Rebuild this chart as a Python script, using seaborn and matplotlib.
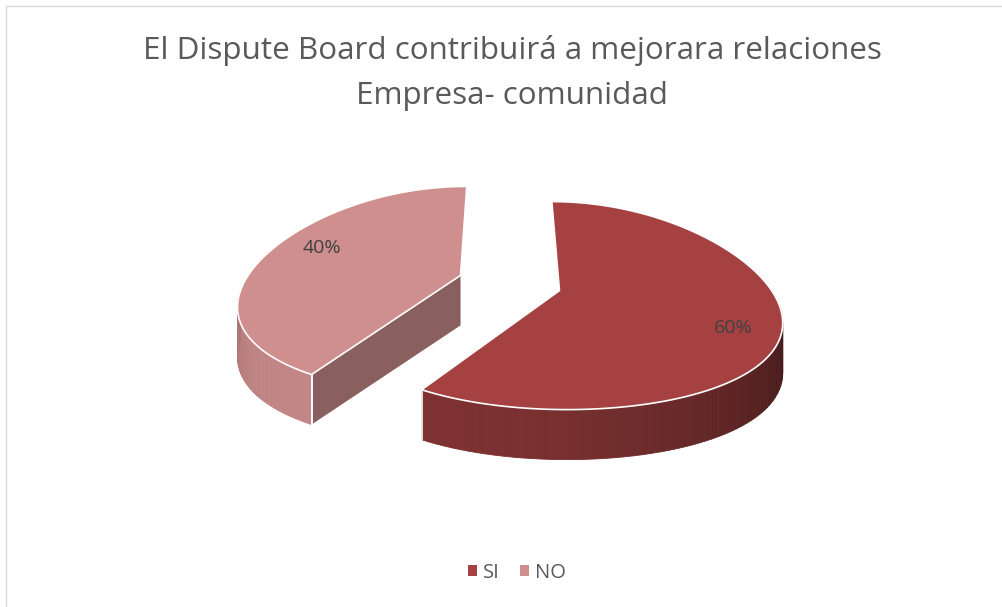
import numpy as np
import matplotlib
matplotlib.use("Agg")
import matplotlib.pyplot as plt
import seaborn as sns
from matplotlib.patches import Polygon, Rectangle, Patch
from matplotlib.colors import to_rgb

# data
labels = ["SI", "NO"]
values = [60, 40]
top_colors = ["#a54141", "#d08f8f"]
title = "El Dispute Board contribuirá a mejorara relaciones\nEmpresa- comunidad"

# side shading per slice: factor = k0 + k1 * cos(angle - light)
shade_k0 = [0.52, 0.66]
shade_k1 = [0.24, 0.28]
LIGHT = 215

# pseudo 3d geometry (pixel space)
CX, CY = 510, 298
RX, RY = 220, 104
DEPTH = 50
LIFT = 15
EXPLODE = 52
PERSP = 0.14      # front of the disc drawn wider than the back
XC = 505          # horizontal vanishing centre
label_angle = [105, 303]
label_frac = [0.82, 0.75]

sns.set_theme(style="white")
plt.rcParams["font.family"] = ["Open Sans", "DejaVu Sans"]

fig = plt.figure(figsize=(10.03, 6.07), dpi=100)
ax = fig.add_axes([0, 0, 1, 1])
ax.set_xlim(0, 1003)
ax.set_ylim(607, 0)
ax.axis("off")


def arc(cx, cy, a0, a1, n=80, dy=0):
    t = np.radians(np.linspace(a0, a1, n))
    x = cx + RX * np.sin(t)
    x = XC + (x - XC) * (1 - PERSP * np.cos(t))
    return np.column_stack([x, cy - RY * np.cos(t) + dy])


def shade(color, i, ang):
    f = shade_k0[i] + shade_k1[i] * np.cos(np.radians(ang - LIGHT))
    return tuple(np.clip(np.array(to_rgb(color)) * f, 0, 1))


total = sum(values)
starts = np.cumsum([0] + values[:-1]) / total * 360
ends = np.cumsum(values) / total * 360

slices = []
for i in range(len(values)):
    a0, a1 = starts[i], ends[i]
    mid = np.radians((a0 + a1) / 2)
    cx = CX + EXPLODE * np.sin(mid)
    cy = CY - EXPLODE * RY / RX * np.cos(mid)
    slices.append((i, a0, a1, cx, cy))

# back slice first (the one whose centre sits higher)
for i, a0, a1, cx, cy in sorted(slices, key=lambda s: s[4]):
    col = top_colors[i]
    vx, vy = cx, cy - LIFT

    # radial faces that face the viewer
    for ang, nrm in [(a0, a0 - 90), (a1, a1 + 90)]:
        if -np.cos(np.radians(nrm)) > 0.1:
            ex, ey = arc(cx, cy, ang, ang, n=1)[0]
            face = [(vx, vy), (ex, ey), (ex, ey + DEPTH), (vx, vy + DEPTH)]
            ax.add_patch(Polygon(face, closed=True, facecolor=shade(col, i, nrm),
                                 edgecolor="none", zorder=2))
            ax.plot([ex, ex], [ey, ey + DEPTH], color="white", lw=1.2, zorder=3)

    # outer wall, visible on the front half
    s0, s1 = max(a0, 90), min(a1, 270)
    if s1 > s0:
        edges = np.linspace(s0, s1, 60)
        for e0, e1 in zip(edges[:-1], edges[1:]):
            up = arc(cx, cy, e0, e1, n=4)
            quad = np.vstack([up, up[::-1] + [0, DEPTH]])
            c = shade(col, i, (e0 + e1) / 2)
            ax.add_patch(Polygon(quad, closed=True, facecolor=c, edgecolor=c,
                                 lw=0.6, zorder=2))
        for ang in (s0, s1):
            if ang in (a0, a1):
                ex, ey = arc(cx, cy, ang, ang, n=1)[0]
                ax.plot([ex, ex], [ey, ey + DEPTH], color="white", lw=1.2, zorder=3)

    # top face
    top = np.vstack([[vx, vy], arc(cx, cy, a0, a1, n=200)])
    ax.add_patch(Polygon(top, closed=True, facecolor=col, edgecolor="white",
                         lw=1.2, joinstyle="round", zorder=4))

    # data label
    la = np.radians(label_angle[i])
    lx = cx + RX * label_frac[i] * np.sin(la)
    ly = cy - RY * label_frac[i] * np.cos(la)
    ax.text(lx, ly, f"{values[i] / total:.0%}", ha="center", va="center",
            fontsize=14, color="#404040", zorder=5)

# chart frame (only top and left edges fall inside the picture)
ax.add_patch(Rectangle((6.5, 5.5), 1010, 620, fill=False, edgecolor="#d9d9d9",
                       lw=1, zorder=1))

ax.text(512, 73, title, ha="center", va="center", fontsize=22.6, color="#595959",
        linespacing=1.62)

handles = [Patch(facecolor=c, edgecolor="none") for c in top_colors]
fig.legend(handles, labels, loc="center", bbox_to_anchor=(0.515, 1 - 573 / 607),
           ncol=2, frameon=False, fontsize=14.5, handlelength=0.45, handleheight=0.45,
           handletextpad=0.3, columnspacing=1.0, labelcolor="#595959")

fig.savefig("out.png", dpi=100)
